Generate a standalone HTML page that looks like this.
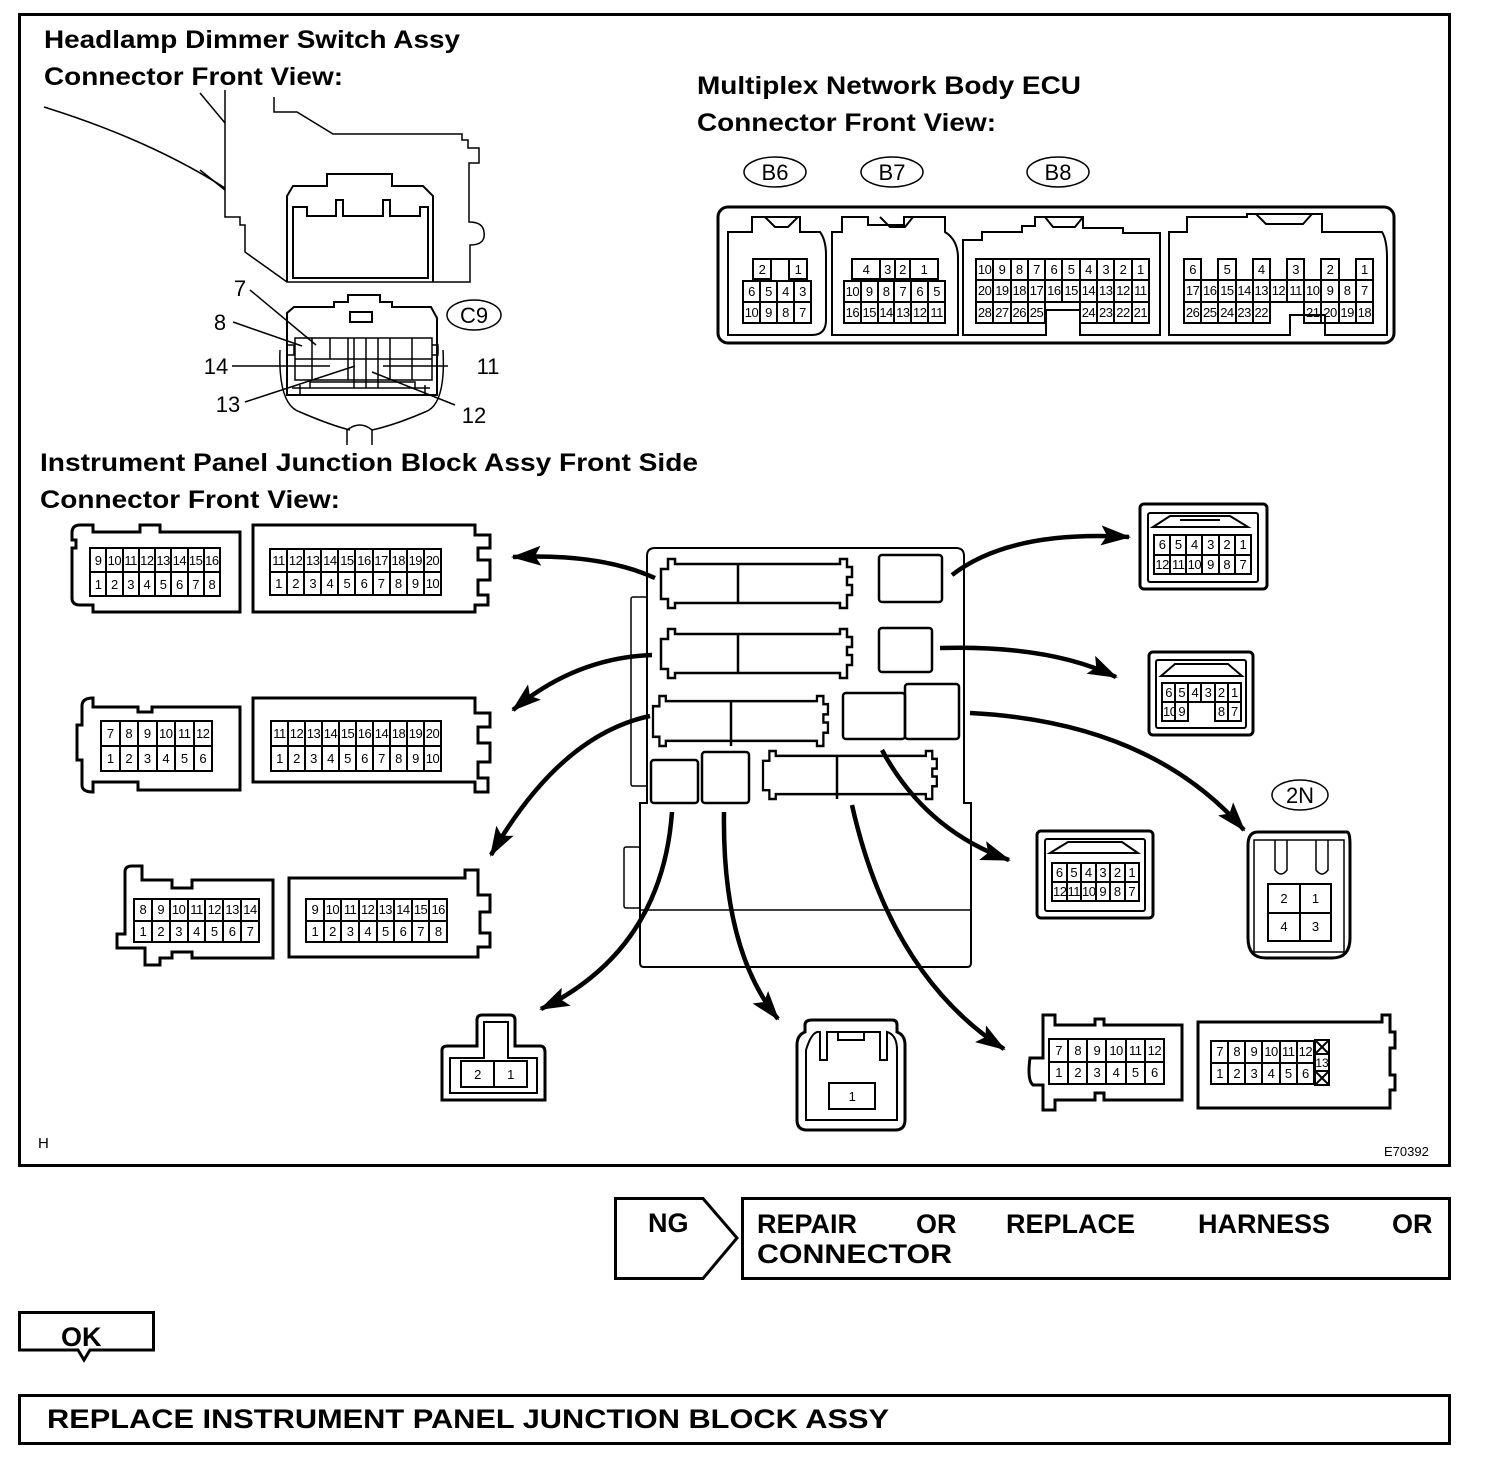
<!DOCTYPE html>
<html><head><meta charset="utf-8">
<style>
html,body{margin:0;padding:0;background:#fff}
#w{position:relative;width:1504px;height:1468px;overflow:hidden;font-family:"Liberation Sans",sans-serif}
svg{position:absolute;left:0;top:0}
table.g{position:absolute;border-collapse:collapse;table-layout:fixed;font:13px "Liberation Sans",sans-serif;text-align:center;z-index:2}
table.g td{border:2px solid #000;padding:0;overflow:hidden;white-space:nowrap;line-height:1;letter-spacing:-0.5px}
table.g td.e{border:none}
</style></head><body><div id="w">
<svg width="1504" height="1468" viewBox="0 0 1504 1468" font-family="Liberation Sans, sans-serif">
<defs>
<marker id="ah" markerUnits="userSpaceOnUse" markerWidth="30" markerHeight="20" refX="28" refY="10" orient="auto"><path d="M0,0 L30,10 L0,20 L6,10 z" fill="#000"/></marker>
<path id="slot" d="M7,0 H14 V5 H179 V0 H186 V8 H191 V18 H186 V26 H191 V36 H186 V49 H179 V44 H14 V49 H7 V40 H0 V10 H7 Z"/>
</defs>
<rect x="19.5" y="14.5" width="1430" height="1151" fill="none" stroke="#000" stroke-width="3"/>
<g font-weight="bold" font-size="25" lengthAdjust="spacingAndGlyphs">
<text x="44" y="48" textLength="416" lengthAdjust="spacingAndGlyphs">Headlamp Dimmer Switch Assy</text>
<text x="44" y="85" textLength="299" lengthAdjust="spacingAndGlyphs">Connector Front View:</text>
<text x="697" y="94" textLength="384" lengthAdjust="spacingAndGlyphs">Multiplex Network Body ECU</text>
<text x="697" y="131" textLength="299" lengthAdjust="spacingAndGlyphs">Connector Front View:</text>
<text x="40" y="471" textLength="658" lengthAdjust="spacingAndGlyphs">Instrument Panel Junction Block Assy Front Side</text>
<text x="40" y="508" textLength="300" lengthAdjust="spacingAndGlyphs">Connector Front View:</text>
</g>
<g fill="none" stroke="#000" stroke-width="1.5">
<path d="M44,107 Q150,140 225,188"/>
<path d="M200,93 L225,123 M200,170 L225,190"/>
<path d="M225,90 V217 H240 V225 H245 V252 L287,282 H470 V245 Q486,245 484,232 Q483,222 469,222 V163 H479 V148 H468 V140 H462 V134 H333 L297,112 H274 V97"/>
<path d="M287,282 V196 L293,186 H327 V174 H392 V186 H423 L433,196 V282" stroke-width="2"/>
<path d="M293,278 V207 H307 V216 H336 V200 H343 V216 H383 V200 H390 V216 H420 V207 H428 V278 Z" stroke-width="2"/>
<path d="M287,395 V313 L294,307 H334 V302 H348 V295 H380 V302 H392 V307 H431 L437,318 V395 Z" stroke-width="2"/>
<rect x="350" y="312" width="22" height="10" stroke-width="2"/>
<path d="M280,350 Q278,405 300,412 Q330,425 350,430 M443,350 Q446,405 425,412 Q395,425 372,430"/>
<path d="M347,445 V430 Q360,420 372,430 V445"/>
<path d="M292,388 H430 M300,385 V395 M425,385 V395 M310,388 V382 H415 V388"/>
<rect x="295" y="338" width="137" height="42"/>
<path d="M295,359 H432 M312,338 V380 M330,338 V359 M348,338 V380 M354,338 V388 M366,338 V388 M378,338 V388 M390,338 V380 M412,338 V380"/>
<path d="M288,345 h6 v10 h-6 M432,345 h6 v10 h-6"/>
<ellipse cx="474" cy="315" rx="27" ry="15"/>
<path d="M250,290 L316,345 M233,322 L302,346 M232,366 H330 M245,402 L355,366 M448,366 H383 M455,405 L372,372"/>
<ellipse cx="775" cy="172" rx="31" ry="15"/><ellipse cx="892" cy="172" rx="31" ry="15"/><ellipse cx="1058" cy="172" rx="31" ry="15"/>
<rect x="718" y="207" width="676" height="136" rx="10" stroke-width="3"/>
<g stroke-width="2">
<path d="M728,335 V232 H752 V217 H800 V232 H820 Q826,240 826,255 V320 Q826,335 812,335 Z M765,217 L775,227 H788 L798,217"/>
<path d="M832,335 V232 H842 V217 H868 V225 H904 V217 H945 V232 Q958,240 958,258 V335 Z M880,217 L890,227 H905 L913,217"/>
<path d="M963,335 V240 H982 V232 H1022 V226 H1035 V217 H1083 V228 H1123 V233 H1160 V335 H1080 V310 H1046 V335 Z M1045,217 L1053,227 H1075 L1083,217"/>
<path d="M1169,335 V232 H1187 V217 H1247 V214 H1322 V232 H1382 Q1387,240 1387,258 V335 H1325 V315 H1290 V335 Z M1256,214 L1266,224 H1303 L1312,214"/>
</g>
<path d="M93,532 V525 H80 Q72,525 72,533 V540 H76 V548 H72 V598 Q72,605 80,605 H93 V612 H240 V532 H160 V525 H140 V532 Z" stroke-width="3"/>
<path d="M253,612 H475 V605 H488 V595 H478 V580 H490 V560 H478 V548 H490 V535 H475 V525 H253 Z" stroke-width="3"/>
<path d="M93,707 V698 Q82,698 82,706 V725 H77 V760 H82 V785 Q82,792 93,792 V782 H138 V790 H240 V707 H152 V712 H138 V707 Z" stroke-width="3"/>
<path d="M253,782 H475 V792 H488 V778 H478 V762 H490 V743 H478 V727 H490 V713 H475 V698 H253 Z" stroke-width="3"/>
<path d="M125,872 Q125,866 132,866 H142 V880 H172 V888 H192 V880 H273 V958 H192 V952 H172 V958 H160 V965 H145 V948 H117 V934 H125 Z" stroke-width="3"/>
<path d="M289,957 H478 V947 H490 V933 H480 V912 H490 V895 H478 V870 H465 V878 H289 Z" stroke-width="3"/>
<path d="M647,803 V556 Q647,548 655,548 H956 Q964,548 964,556 V803 H971 V963 Q971,967 967,967 H644 Q640,967 640,963 V803 Z" stroke-width="2"/>
<path d="M640,910 H971"/>
<rect x="631" y="597" width="16" height="189" rx="2" stroke-width="1.5"/>
<rect x="624" y="847" width="16" height="61" rx="2"/>
<g stroke-width="2.5">
<use href="#slot" x="661" y="559"/><use href="#slot" x="661" y="629"/>
<use href="#slot" transform="translate(653,696) scale(0.916,1.02)"/>
<use href="#slot" transform="translate(763,751) scale(0.91,0.98)"/>
<path d="M738,564 V603 M738,634 V673 M731,701 V746 M837,756 V799"/>
<rect x="879" y="555" width="63" height="47" rx="3"/><rect x="879" y="628" width="53" height="44" rx="3"/>
<rect x="843" y="693" width="62" height="46" rx="3"/><rect x="905" y="684" width="54" height="55" rx="3"/>
<rect x="651" y="760" width="47" height="43" rx="3"/><rect x="702" y="752" width="47" height="51" rx="3"/>
</g>
<rect x="1140" y="504" width="127" height="85" rx="4" stroke-width="3"/>
<rect x="1148" y="513" width="110" height="69" rx="2" stroke-width="2"/>
<path d="M1153,527 L1170,516 H1230 L1248,527 Z M1180,520 H1220" stroke-width="2"/>
<rect x="1149" y="652" width="104" height="83" rx="4" stroke-width="3"/>
<rect x="1156" y="660" width="90" height="68" rx="2" stroke-width="2"/>
<path d="M1161,676 L1175,664 H1228 L1242,676 Z" stroke-width="2"/>
<rect x="1037" y="831" width="116" height="87" rx="4" stroke-width="3"/>
<rect x="1045" y="839" width="100" height="72" rx="2" stroke-width="2"/>
<path d="M1050,853 L1068,842 H1122 L1138,853 Z" stroke-width="2"/>
<ellipse cx="1300" cy="795" rx="28" ry="15"/>
<path d="M1258,832 H1347 Q1350,832 1350,845 V938 Q1350,958 1332,958 H1266 Q1248,958 1248,938 V845 Q1248,832 1258,832 Z" stroke-width="3"/>
<path d="M1254,840 H1344 V952 H1254 Z M1275,840 V870 Q1281,878 1287,870 V840 M1316,840 V870 Q1322,878 1328,870 V840"/>
<path d="M442,1100 V1050 Q442,1046 448,1046 H477 V1020 Q477,1015 482,1015 H510 Q515,1015 515,1020 V1046 H540 Q545,1046 545,1052 V1100 Z" stroke-width="3"/>
<path d="M450,1093 V1058 H484 V1022 H508 V1058 H537 V1093 Z" stroke-width="2"/>
<path d="M797,1045 Q797,1035 805,1032 V1025 Q805,1020 812,1020 H892 Q897,1020 897,1025 V1032 Q905,1035 905,1045 V1120 Q905,1130 895,1130 H807 Q797,1130 797,1120 Z" stroke-width="3"/>
<path d="M806,1120 V1050 Q812,1030 820,1032 V1060 H827 V1032 H880 V1060 H887 V1032 Q897,1035 897,1050 V1120 Z" stroke-width="2"/>
<rect x="838" y="1032" width="26" height="8" stroke-width="2"/>
<path d="M1043,1015 H1055 V1025 H1095 V1019 H1104 V1025 H1182 V1100 H1104 V1093 H1095 V1100 H1055 V1110 H1043 V1085 H1033 Q1027,1080 1030,1058 H1043 Z" stroke-width="3"/>
<path d="M1198,1108 V1022 H1382 V1015 H1390 V1032 H1395 V1048 H1390 V1075 H1395 V1090 H1390 V1108 Z" stroke-width="3"/>
<rect x="1315" y="1040" width="14" height="45" stroke-width="2"/>
<path d="M1315,1040 l14,14 M1329,1040 l-14,14 M1315,1071 l14,14 M1329,1071 l-14,14 M1315,1054 H1329 M1315,1071 H1329" stroke-width="2"/>
</g>
<text x="1322" y="1067" font-size="12" text-anchor="middle">13</text>
<g font-size="22" text-anchor="middle">
<text x="775" y="180">B6</text><text x="892" y="180">B7</text><text x="1058" y="180">B8</text>
<text x="474" y="323">C9</text><text x="1300" y="803">2N</text>
<text x="240" y="296">7</text><text x="220" y="330">8</text><text x="216" y="374">14</text><text x="488" y="374">11</text><text x="228" y="412">13</text><text x="474" y="423">12</text>
</g>
<g fill="none" stroke="#000" stroke-width="4.5" marker-end="url(#ah)">
<path d="M655,578 Q600,553 513,557"/>
<path d="M652,655 Q575,658 513,710"/>
<path d="M650,716 Q560,735 491,855"/>
<path d="M672,812 Q662,950 541,1009"/>
<path d="M724,812 Q722,950 778,1019"/>
<path d="M852,805 Q890,975 1004,1049"/>
<path d="M882,750 Q925,830 1009,860"/>
<path d="M970,713 Q1150,722 1244,830"/>
<path d="M940,648 Q1050,645 1116,677"/>
<path d="M952,575 Q1010,530 1129,537"/>
</g>
<text x="38" y="1148" font-size="15">H</text>
<text x="1384" y="1156" font-size="13">E70392</text>
<path d="M615.5,1198.5 H703 L737,1238 L703,1278.5 H615.5 Z" fill="none" stroke="#000" stroke-width="3"/>
<rect x="742.5" y="1198.5" width="707" height="80" fill="none" stroke="#000" stroke-width="3"/>
<path d="M19.5,1312.5 H153.5 V1350 H90 L84,1360 L78,1350 H19.5 Z" fill="none" stroke="#000" stroke-width="3"/>
<rect x="19.5" y="1395.5" width="1430" height="48" fill="none" stroke="#000" stroke-width="3"/>
<g font-weight="bold" font-size="27">
<text x="648" y="1232">NG</text>
<text x="757" y="1233">REPAIR</text><text x="916" y="1233">OR</text><text x="1006" y="1233">REPLACE</text><text x="1198" y="1233">HARNESS</text><text x="1392" y="1233">OR</text>
<text x="757" y="1263" textLength="195" lengthAdjust="spacingAndGlyphs">CONNECTOR</text>
<text x="61" y="1346">OK</text>
<text x="47" y="1428" textLength="842" lengthAdjust="spacingAndGlyphs">REPLACE INSTRUMENT PANEL JUNCTION BLOCK ASSY</text>
</g>
</svg>

<table class="g" style="left:752px;top:258px;width:56px;height:22px"><tr><td>2</td><td class="e" style="border-top:2px solid #000"></td><td>1</td></tr></table>
<table class="g" style="left:742px;top:280px;width:70px;height:44px"><tr><td>6</td><td>5</td><td>4</td><td>3</td></tr><tr><td>10</td><td>9</td><td>8</td><td>7</td></tr></table>
<table class="g" style="left:851px;top:258px;width:88px;height:22px"><tr><td style="width:26px">4</td><td>3</td><td>2</td><td style="width:26px">1</td></tr></table>
<table class="g" style="left:843px;top:280px;width:103px;height:44px"><tr><td>10</td><td>9</td><td>8</td><td>7</td><td>6</td><td>5</td></tr><tr><td>16</td><td>15</td><td>14</td><td>13</td><td>12</td><td>11</td></tr></table>
<table class="g" style="left:975px;top:258px;width:175px;height:66px"><tr><td>10</td><td>9</td><td>8</td><td>7</td><td>6</td><td>5</td><td>4</td><td>3</td><td>2</td><td>1</td></tr><tr><td>20</td><td>19</td><td>18</td><td>17</td><td>16</td><td>15</td><td>14</td><td>13</td><td>12</td><td>11</td></tr><tr><td>28</td><td>27</td><td>26</td><td>25</td><td class="e" style="border-top:2px solid #000"></td><td class="e" style="border-top:2px solid #000"></td><td>24</td><td>23</td><td>22</td><td>21</td></tr></table>
<table class="g" style="left:1183px;top:258px;width:191px;height:66px"><tr><td>6</td><td class="e"></td><td>5</td><td class="e"></td><td>4</td><td class="e"></td><td>3</td><td class="e"></td><td>2</td><td class="e"></td><td>1</td></tr><tr><td>17</td><td>16</td><td>15</td><td>14</td><td>13</td><td>12</td><td>11</td><td>10</td><td>9</td><td>8</td><td>7</td></tr><tr><td>26</td><td>25</td><td>24</td><td>23</td><td>22</td><td class="e" style="border-top:2px solid #000"></td><td class="e" style="border-top:2px solid #000"></td><td>21</td><td>20</td><td>19</td><td>18</td></tr></table>
<table class="g" style="left:89px;top:547px;width:132px;height:50px"><tr><td>9</td><td>10</td><td>11</td><td>12</td><td>13</td><td>14</td><td>15</td><td>16</td></tr><tr><td>1</td><td>2</td><td>3</td><td>4</td><td>5</td><td>6</td><td>7</td><td>8</td></tr></table>
<table class="g" style="left:269px;top:548px;width:173px;height:48px"><tr><td>11</td><td>12</td><td>13</td><td>14</td><td>15</td><td>16</td><td>17</td><td>18</td><td>19</td><td>20</td></tr><tr><td>1</td><td>2</td><td>3</td><td>4</td><td>5</td><td>6</td><td>7</td><td>8</td><td>9</td><td>10</td></tr></table>
<table class="g" style="left:100px;top:720px;width:113px;height:52px"><tr><td>7</td><td>8</td><td>9</td><td>10</td><td>11</td><td>12</td></tr><tr><td>1</td><td>2</td><td>3</td><td>4</td><td>5</td><td>6</td></tr></table>
<table class="g" style="left:270px;top:720px;width:172px;height:52px"><tr><td>11</td><td>12</td><td>13</td><td>14</td><td>15</td><td>16</td><td>14</td><td>18</td><td>19</td><td>20</td></tr><tr><td>1</td><td>2</td><td>3</td><td>4</td><td>5</td><td>6</td><td>7</td><td>8</td><td>9</td><td>10</td></tr></table>
<table class="g" style="left:133px;top:898px;width:127px;height:45px"><tr><td>8</td><td>9</td><td>10</td><td>11</td><td>12</td><td>13</td><td>14</td></tr><tr><td>1</td><td>2</td><td>3</td><td>4</td><td>5</td><td>6</td><td>7</td></tr></table>
<table class="g" style="left:305px;top:898px;width:143px;height:45px"><tr><td>9</td><td>10</td><td>11</td><td>12</td><td>13</td><td>14</td><td>15</td><td>16</td></tr><tr><td>1</td><td>2</td><td>3</td><td>4</td><td>5</td><td>6</td><td>7</td><td>8</td></tr></table>
<table class="g" style="left:1153px;top:534px;width:99px;height:41px"><tr><td>6</td><td>5</td><td>4</td><td>3</td><td>2</td><td>1</td></tr><tr><td>12</td><td>11</td><td>10</td><td>9</td><td>8</td><td>7</td></tr></table>
<table class="g" style="left:1161px;top:682px;width:81px;height:40px"><tr><td>6</td><td>5</td><td>4</td><td>3</td><td>2</td><td>1</td></tr><tr><td>10</td><td>9</td><td class="e" style="border-top:2px solid #000"></td><td class="e" style="border-top:2px solid #000"></td><td>8</td><td>7</td></tr></table>
<table class="g" style="left:1051px;top:862px;width:89px;height:40px"><tr><td>6</td><td>5</td><td>4</td><td>3</td><td>2</td><td>1</td></tr><tr><td>12</td><td>11</td><td>10</td><td>9</td><td>8</td><td>7</td></tr></table>
<table class="g" style="left:1267px;top:883px;width:65px;height:59px"><tr><td>2</td><td>1</td></tr><tr><td>4</td><td>3</td></tr></table>
<table class="g" style="left:460px;top:1060px;width:68px;height:28px"><tr><td>2</td><td>1</td></tr></table>
<table class="g" style="left:828px;top:1082px;width:48px;height:28px"><tr><td>1</td></tr></table>
<table class="g" style="left:1048px;top:1038px;width:117px;height:47px"><tr><td>7</td><td>8</td><td>9</td><td>10</td><td>11</td><td>12</td></tr><tr><td>1</td><td>2</td><td>3</td><td>4</td><td>5</td><td>6</td></tr></table>
<table class="g" style="left:1210px;top:1040px;width:105px;height:45px"><tr><td>7</td><td>8</td><td>9</td><td>10</td><td>11</td><td>12</td></tr><tr><td>1</td><td>2</td><td>3</td><td>4</td><td>5</td><td>6</td></tr></table>
</div></body></html>
